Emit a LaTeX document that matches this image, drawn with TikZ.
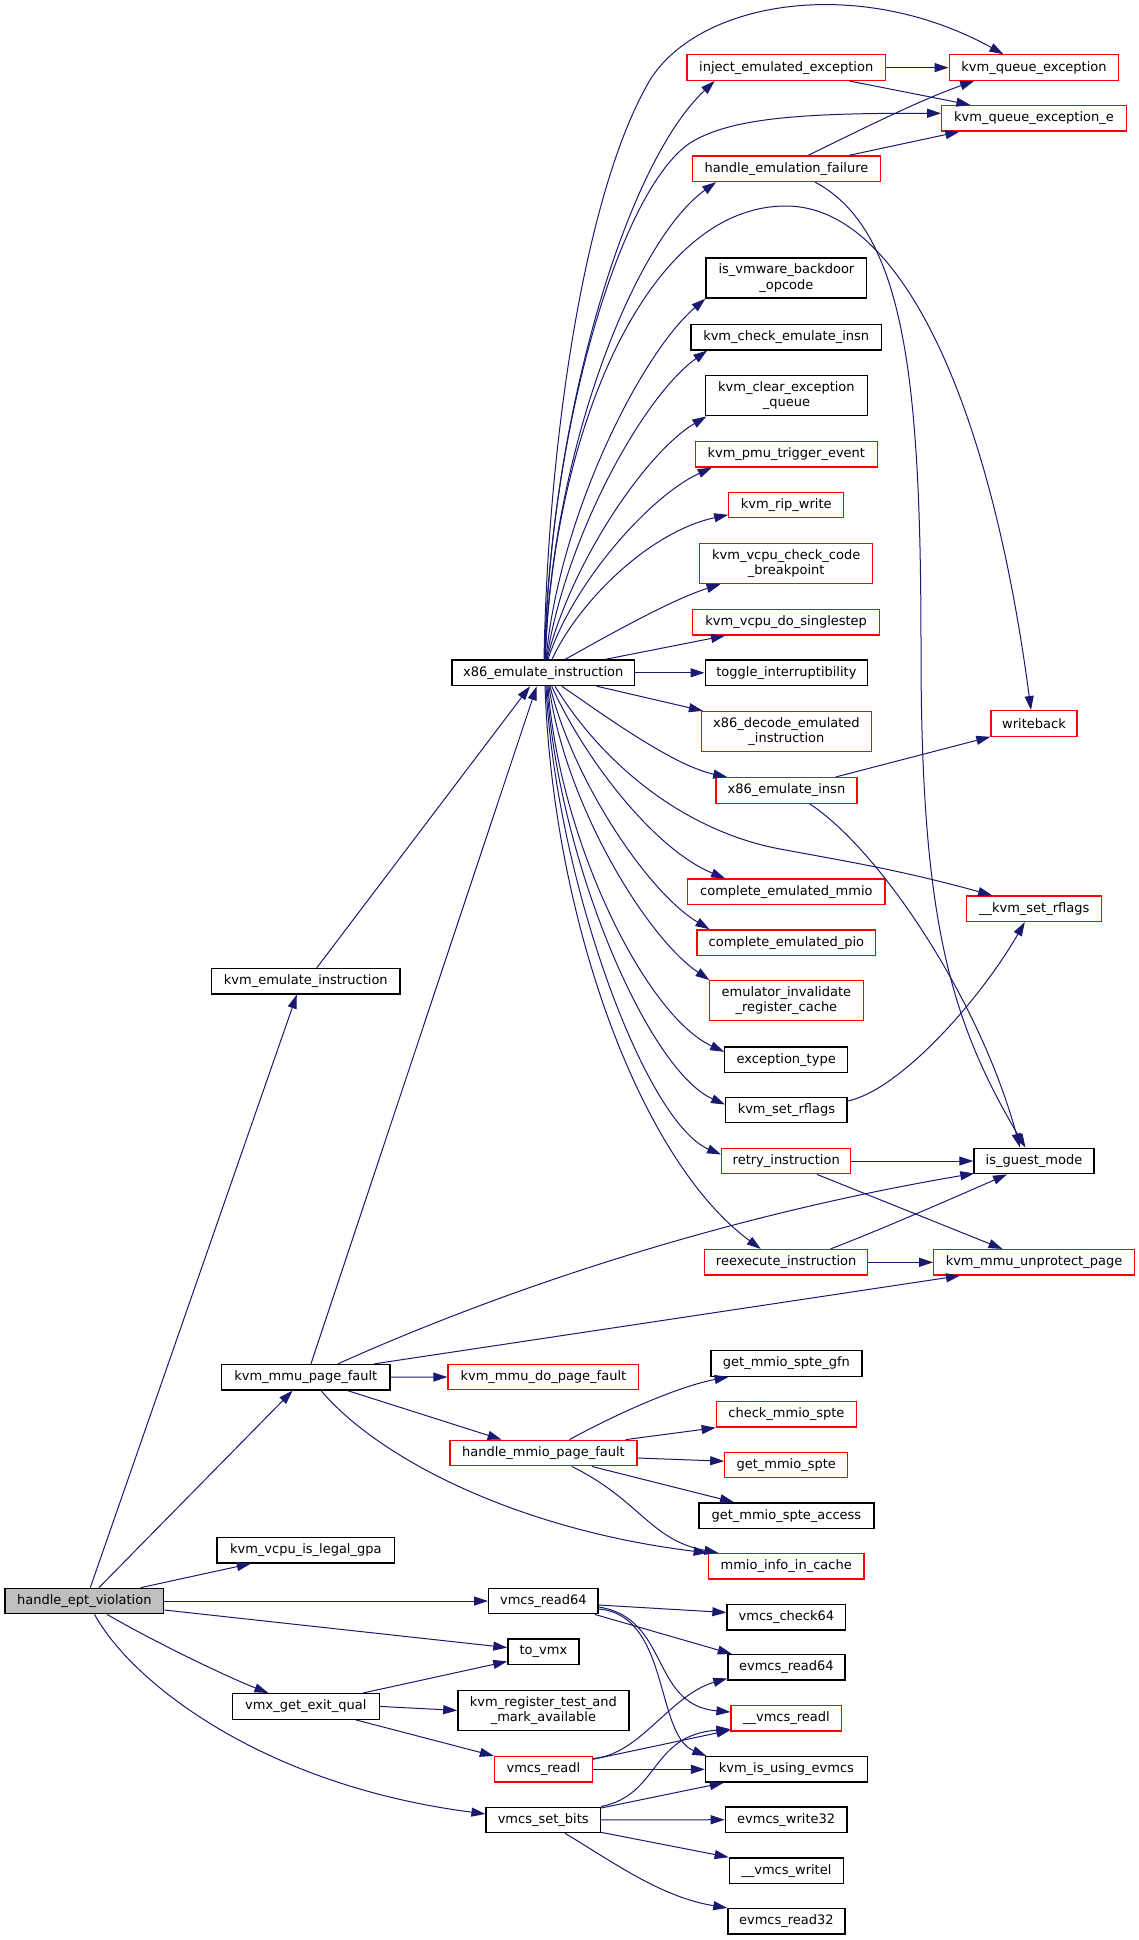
\documentclass[tikz,border=0pt]{standalone}
\usepackage{fontspec}
\setmainfont{DejaVu Sans}
\usetikzlibrary{arrows.meta,calc}
\definecolor{edgec}{HTML}{191970}
\definecolor{nodeb}{HTML}{000000}
\definecolor{rootfill}{HTML}{BFBFBF}
\newcommand\nodefont{\fontsize{13}{15.2}\selectfont}
\tikzset{
  base/.style={rectangle, inner sep=0pt, minimum height=25.5pt, font=\nodefont, line width=1.3pt, fill=white, align=center},
  nb/.style={base, draw=nodeb},
  nr/.style={base, draw=red},
  root/.style={base, draw=black, fill=rootfill},
  two/.style={minimum height=40pt},
  e/.style={draw=edgec, line width=1pt, -{Triangle[length=14pt,width=9pt]}},
}
\begin{document}
\begin{tikzpicture}[x=1pt,y=-1pt]
\useasboundingbox[fill=white] (0,0) rectangle (1139,1940);
% column 0
\node[root, minimum width=158.9] (hev) at (84.3,1601) {handle\_ept\_violation};
% column 1
\node[nb, minimum width=188.3] (kei) at (305.8,981.2) {kvm\_emulate\_instruction};
\node[nb, minimum width=168.1] (kmpf) at (305.8,1377.2) {kvm\_mmu\_page\_fault};
\node[nb, minimum width=177.8] (kvilg) at (305.8,1550.2) {kvm\_vcpu\_is\_legal\_gpa};
\node[nb, minimum width=147] (vgeq) at (305.8,1706.4) {vmx\_get\_exit\_qual};
% column 2
\node[nb, minimum width=182.6] (x86) at (543.3,672.8) {x86\_emulate\_instruction};
\node[nr, minimum width=190.7] (kmdpf) at (543.4,1377) {kvm\_mmu\_do\_page\_fault};
\node[nr, minimum width=187.1] (hmpf) at (543.4,1453) {handle\_mmio\_page\_fault};
\node[nb, minimum width=109.4] (vr64) at (543.4,1601) {vmcs\_read64};
\node[nb, minimum width=71] (tovmx) at (543.4,1651.6) {to\_vmx};
\node[nb, two, minimum width=171] (krtma) at (543.4,1710.4) {kvm\_register\_test\_and\\\_mark\_available};
\node[nr, minimum width=97.8] (vrl) at (543.4,1769.3) {vmcs\_readl};
\node[nb, minimum width=114.3] (vsb) at (543.2,1819.9) {vmcs\_set\_bits};
% column 3
\node[nr, minimum width=198.6] (iee) at (786.2,67.6) {inject\_emulated\_exception};
\node[nr, minimum width=188.4] (hef) at (786.4,168.7) {handle\_emulation\_failure};
\node[nb, two, minimum width=160.7] (ivbo) at (786.4,278.1) {is\_vmware\_backdoor\\\_opcode};
\node[nb, minimum width=190.6] (kcei) at (786.2,337.1) {kvm\_check\_emulate\_insn};
\node[nb, two, minimum width=161.6] (kceq) at (786.4,395.8) {kvm\_clear\_exception\\\_queue};
\node[nr, minimum width=181.7] (kpte) at (786.3,454.2) {kvm\_pmu\_trigger\_event};
\node[nr, minimum width=114.8] (krw) at (786.2,505) {kvm\_rip\_write};
\node[nr, two, minimum width=172.8] (kvccb) at (786.2,563.6) {kvm\_vcpu\_check\_code\\\_breakpoint};
\node[nr, minimum width=187] (kvds) at (786.2,622.3) {kvm\_vcpu\_do\_singlestep};
\node[nb, minimum width=162.5] (ti) at (786.4,672.8) {toggle\_interruptibility};
\node[nr, two, minimum width=169.7] (xdei) at (786.4,731.5) {x86\_decode\_emulated\\\_instruction};
\node[nr, minimum width=141.1] (xei) at (786.4,790.4) {x86\_emulate\_insn};
\node[nr, minimum width=197.3] (cem) at (786.4,891.8) {complete\_emulated\_mmio};
\node[nr, minimum width=178.6] (cep) at (786.4,942.6) {complete\_emulated\_pio};
\node[nr, two, minimum width=153.6] (eirc) at (786.4,1000.7) {emulator\_invalidate\\\_register\_cache};
\node[nb, minimum width=122.8] (et) at (786.2,1059.6) {exception\_type};
\node[nb, minimum width=121.4] (ksr) at (786.4,1110) {kvm\_set\_rflags};
\node[nr, minimum width=129] (ri) at (786.2,1161) {retry\_instruction};
\node[nr, minimum width=163] (rei) at (786.2,1262.3) {reexecute\_instruction};
\node[nb, minimum width=150.9] (gmsg) at (786.4,1363.5) {get\_mmio\_spte\_gfn};
\node[nr, minimum width=140.2] (cms) at (786.4,1414.3) {check\_mmio\_spte};
\node[nr, minimum width=122.8] (gms) at (786.2,1465) {get\_mmio\_spte};
\node[nb, minimum width=175] (gmsa) at (786.4,1515.6) {get\_mmio\_spte\_access};
\node[nr, minimum width=155.8] (miic) at (786.2,1566.3) {mmio\_info\_in\_cache};
\node[nb, minimum width=118.8] (vc64) at (786.4,1617.2) {vmcs\_check64};
\node[nb, minimum width=117] (er64) at (786.4,1667.3) {evmcs\_read64};
\node[nr, minimum width=110.7] (uvrl) at (786.4,1718.3) {\_\_vmcs\_readl};
\node[nb, minimum width=161.6] (kiue) at (786.4,1769.3) {kvm\_is\_using\_evmcs};
\node[nb, minimum width=121.8] (ew32) at (786.2,1819.7) {evmcs\_write32};
\node[nb, minimum width=114.3] (uvwl) at (786.4,1870.6) {\_\_vmcs\_writel};
\node[nb, minimum width=117] (er32) at (786.4,1921.3) {evmcs\_read32};
% column 4
\node[nr, minimum width=169.6] (kqe) at (1034,67.6) {kvm\_queue\_exception};
\node[nr, minimum width=184.4] (kqee) at (1034,118.3) {kvm\_queue\_exception\_e};
\node[nr, minimum width=86.1] (wb) at (1034,723.4) {writeback};
\node[nr, minimum width=134.8] (uksr) at (1034.2,908.7) {\_\_kvm\_set\_rflags};
\node[nb, minimum width=120.1] (igm) at (1034,1161) {is\_guest\_mode};
\node[nr, minimum width=200.4] (kmup) at (1034,1262.3) {kvm\_mmu\_unprotect\_page};

% ---- edges from handle_ept_violation
\draw[e] ($(hev.north)+(6,0)$) -- ($(kei.south)+(-9,0)$);
\draw[e] ($(hev.north)+(14.7,0)$) -- ($(kmpf.south)+(-13.2,0)$);
\draw[e] ($(hev.north)+(56.5,0)$) -- ($(kvilg.south)+(-55,0)$);
\draw[e] (hev.east) -- (vr64.west);
\draw[e] ($(hev.east)+(0,9)$) -- ($(tovmx.west)+(0,-4)$);
\draw[e] ($(hev.south)+(22.7,0)$) .. controls (160,1645) and (230,1678) .. ($(vgeq.north)+(-37.4,0)$);
\draw[e] ($(hev.south)+(10.3,0)$) .. controls (130,1680) and (260,1785) .. ($(vsb.west)+(0,-6)$);
% ---- into x86
\draw[e] ($(kei.north)+(11,0)$) -- ($(x86.south)+(-13.3,0)$);
\draw[e] ($(kmpf.north)+(5.2,0)$) -- ($(x86.south)+(-6.6,0)$);
% ---- kvm_mmu_page_fault
\draw[e] (kmpf.east) -- (kmdpf.west);
\draw[e] ($(kmpf.south)+(41.8,0)$) -- ($(hmpf.north)+(-41.8,0)$);
\draw[e] ($(kmpf.south)+(15.2,0)$) .. controls (380,1460) and (520,1530) .. (miic.north west);
\draw[e] ($(kmpf.north)+(32.2,0)$) .. controls (480,1300) and (700,1220) .. ($(igm.south west)+(1,-1)$);
\draw[e] ($(kmpf.north east)+(-16,0)$) -- ($(kmup.south)+(-74,0)$);
% ---- x86 upper fan
\draw[e] ($(x86.north)+(0.7,0)$) .. controls (548,440) and (585,190) .. (650,80) .. controls (700,0) and (860,-25) .. ($(kqe.north)+(-30.6,0)$);
\draw[e] ($(x86.north)+(1.2,0)$) .. controls (550,420) and (625,165) .. ($(iee.south west)+(28.4,0)$);
\draw[e] ($(x86.north)+(1.7,0)$) .. controls (549,430) and (620,190) .. (690,143) .. controls (730,118) and (800,113) .. ($(kqee.west)+(0,-5)$);
\draw[e] ($(x86.north)+(1.7,0)$) .. controls (552,450) and (635,240) .. ($(hef.south west)+(24.6,0)$);
\draw[e] ($(x86.north)+(2.2,0)$) .. controls (551,450) and (640,206) .. (786,206) .. controls (900,206) and (990,400) .. ($(wb.north)+(-3,0)$);
\draw[e] ($(x86.north)+(2.7,0)$) .. controls (558.8,515.5) and (642,352.5) .. (ivbo.south west);
\draw[e] ($(x86.north)+(3.2,0)$) .. controls (565.9,536) and (643.3,396.2) .. ($(kcei.south west)+(17,0)$);
\draw[e] ($(x86.north)+(3.7,0)$) .. controls (571,562.4) and (646.2,452.3) .. ($(kceq.south west)+(1.4,0)$);
\draw[e] ($(x86.north)+(4.7,0)$) .. controls (572.6,583) and (649.9,496) .. ($(kpte.south west)+(17,0)$);
\draw[e] ($(x86.north)+(8.7,0)$) .. controls (578.5,601.9) and (649.2,531.8) .. ($(krw.south west)+(0,-3.6)$);
\draw[e] ($(x86.north)+(21.7,0)$) .. controls (600,640) and (670,600) .. ($(kvccb.south west)+(21.4,0)$);
\draw[e] ($(x86.north)+(61.7,0)$) -- ($(kvds.south west)+(33,0)$);
\draw[e] (x86.east) -- (ti.west);
% ---- x86 lower fan
\draw[e] ($(x86.south)+(53.4,0)$) -- ($(xdei.north west)+(2,0)$);
\draw[e] ($(x86.south)+(18.4,0)$) .. controls (590,705) and (670,765) .. ($(xei.north west)+(12,0)$);
\draw[e] ($(x86.south)+(11.7,0)$) .. controls (600,760) and (680,830) .. (780,849) .. controls (850,862) and (900,870) .. ($(uksr.north)+(-42,0)$);
\draw[e] ($(x86.south)+(8.4,0)$) .. controls (586.5,762.8) and (656.1,850) .. ($(cem.north west)+(38,0)$);
\draw[e] ($(x86.south)+(6.7,0)$) .. controls (574,783.2) and (649.2,893.3) .. ($(cep.north west)+(13,0)$);
\draw[e] ($(x86.south)+(5.7,0)$) .. controls (565.1,803.5) and (645.6,936.5) .. ($(eirc.north west)+(0.5,0)$);
\draw[e] ($(x86.south)+(4.7,0)$) .. controls (558.6,839.2) and (645.2,1015.2) .. ($(et.west)+(0,-7.8)$);
\draw[e] ($(x86.south)+(3.7,0)$) .. controls (557.7,860) and (648,1070) .. ($(ksr.west)+(0,-5.5)$);
\draw[e] ($(x86.south)+(2.7,0)$) .. controls (556,880) and (645,1122) .. ($(ri.west)+(0,-6.5)$);
\draw[e] ($(x86.south)+(1.7,0)$) .. controls (553,920) and (640,1160) .. ($(rei.north west)+(56.7,0)$);
% ---- column 3 to column 4
\draw[e] (iee.east) -- (kqe.west);
\draw[e] ($(iee.south east)+(-36.8,0)$) -- ($(kqee.north west)+(29.2,0)$);
\draw[e] ($(hef.north)+(21.9,0)$) .. controls (860,130) and (920,100) .. ($(kqe.south west)+(25.6,0)$);
\draw[e] ($(hef.north east)+(-32.1,0)$) -- ($(kqee.south west)+(18.2,0)$);
\draw[e] ($(hef.south)+(28.6,0)$) .. controls (905,230) and (921,380) .. (921,650) .. controls (921,920) and (950,1020) .. ($(igm.north)+(-8.5,0)$);
\draw[e] ($(xei.north east)+(-22,0)$) -- (wb.south west);
\draw[e] ($(xei.south)+(23.2,0)$) .. controls (880,850) and (980,1000) .. ($(igm.north)+(-14,0)$);
\draw[e] ($(ksr.east)+(0,-9)$) .. controls (900,1090) and (980,1000) .. ($(uksr.south)+(-9.4,0)$);
\draw[e] (ri.east) -- (igm.west);
\draw[e] ($(ri.south)+(30.8,0)$) -- ($(kmup.north)+(-31.5,0)$);
\draw[e] ($(rei.north)+(44.4,0)$) .. controls (880,1230) and (960,1195) .. ($(igm.south)+(-27,0)$);
\draw[e] (rei.east) -- (kmup.west);
% ---- handle_mmio_page_fault
\draw[e] ($(hmpf.north)+(26,0)$) .. controls (620,1412) and (680,1386) .. ($(gmsg.south west)+(18.3,0)$);
\draw[e] ($(hmpf.north east)+(-12,0)$) -- (cms.south west);
\draw[e] ($(hmpf.east)+(0,5)$) -- ($(gms.west)+(0,-3.8)$);
\draw[e] ($(hmpf.south)+(48.4,0)$) -- ($(gmsa.north west)+(35.7,0)$);
\draw[e] ($(hmpf.south)+(28.3,0)$) .. controls (640,1500) and (650,1540) .. ($(miic.north west)+(10.7,0)$);
% ---- vmcs_read64
\draw[e] ($(vr64.east)+(0,4)$) -- ($(vc64.west)+(0,-4.7)$);
\draw[e] ($(vr64.south east)+(-4,0)$) -- ($(er64.north west)+(4.5,0)$);
\draw[e] ($(vr64.east)+(0,6)$) .. controls (670,1618) and (650,1705) .. ($(uvrl.west)+(0,-6.3)$);
\draw[e] ($(vr64.east)+(0,8)$) .. controls (670,1615) and (655,1735) .. ($(kiue.north west)+(1.4,0)$);
% ---- vmx_get_exit_qual
\draw[e] ($(vgeq.north)+(57.2,0)$) -- ($(tovmx.west)+(0,9.8)$);
\draw[e] (vgeq.east) -- (krtma.west);
\draw[e] ($(vgeq.south)+(49.8,0)$) -- (vrl.north west);
% ---- vmcs_readl
\draw[e] ($(vrl.east)+(0,-10.8)$) .. controls (640,1755) and (670,1695) .. ($(er64.south west)+(0,-2.3)$);
\draw[e] ($(vrl.east)+(0,-10)$) -- ($(uvrl.south west)+(0,-1.6)$);
\draw[e] (vrl.east) -- (kiue.west);
% ---- vmcs_set_bits
\draw[e] (vsb.north east) .. controls (660,1795) and (650,1735) .. ($(uvrl.south west)+(0,-2.5)$);
\draw[e] ($(vsb.north east)+(0,1.5)$) -- ($(kiue.south west)+(18.8,0)$);
\draw[e] (vsb.east) -- (ew32.west);
\draw[e] ($(vsb.south east)+(0,-1)$) -- (uvwl.north west);
\draw[e] ($(vsb.south)+(21.8,0)$) .. controls (610,1860) and (660,1897) .. (er32.north west);
\end{tikzpicture}
\end{document}
